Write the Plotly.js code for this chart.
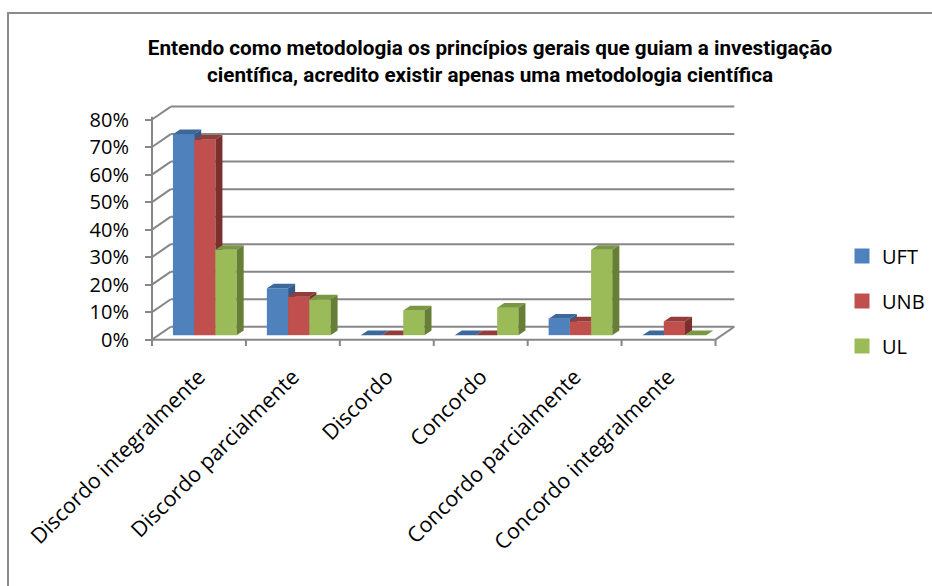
<!DOCTYPE html>
<html>
<head>
<meta charset="utf-8">
<script src="https://cdn.plot.ly/plotly-3.0.1.min.js"></script>
<style>
  body { margin: 0; background: #fff; }
  #wrap { position: relative; width: 932px; height: 586px; }
  #myDiv { width: 932px; height: 586px; }
  #frame { position: absolute; left: 7px; top: 12px; right: -4px; bottom: -4px;
           border-left: 2px solid #8a8a8a; border-top: 2px solid #8a8a8a; pointer-events: none; }
</style>
</head>
<body>
<div id="wrap">
  <div id="myDiv"></div>
  <div id="frame"></div>
</div>
<script>
var categories = ['Discordo integralmente', 'Discordo parcialmente', 'Discordo',
                  'Concordo', 'Concordo parcialmente', 'Concordo integralmente'];
var seriesNames = ['UFT', 'UNB', 'UL'];
var uft = [73, 17, 0, 0, 6, 0];
var unb = [71, 14, 0, 0, 5, 5];
var ul  = [31, 13, 9, 10, 31, 0];
var yTicks = [0, 10, 20, 30, 40, 50, 60, 70, 80];

var series = [uft, unb, ul];
var frontColors = ['#4F81BD', '#C0504D', '#9BBB59'];
var topColors   = ['#3D689C', '#933D3A', '#7A9743'];
var sideColors  = ['#335A88', '#7C302E', '#677E36'];

// fake 3d: everything in axis units
var xr = [-0.5, 5.75], yr = [-2.3, 86];
var barW = 0.226, shiftX = 0.062, shiftY = 1.64;
var depthX = 0.075, depthY = 1.7;
var wallX = 0.2, wallY = 4.7;

function face(xs, ys, color) {
    return {
        x: xs, y: ys, type: 'scatter', mode: 'lines', fill: 'toself',
        fillcolor: color, line: {width: 0}, showlegend: false, hoverinfo: 'skip'
    };
}

var data = [];
categories.forEach(function (c, i) {
    series.forEach(function (vals, k) {
        var x0 = i + shiftX - 1.5 * barW + k * barW, x1 = x0 + barW;
        var y0 = shiftY, y1 = vals[i] + shiftY;
        data.push(face([x0, x1, x1, x0], [y0, y0, y1, y1], frontColors[k]));
        data.push(face([x0, x1, x1 + depthX, x0 + depthX], [y1, y1, y1 + depthY, y1 + depthY], topColors[k]));
        data.push(face([x1, x1 + depthX, x1 + depthX, x1], [y0, y0 + depthY, y1 + depthY, y1], sideColors[k]));
    });
});

// legend entries
seriesNames.forEach(function (n, k) {
    data.push({
        x: [null], y: [null], type: 'scatter', mode: 'markers', name: n, legendgroup: n,
        marker: {symbol: 'square', size: 15, color: frontColors[k]}, hoverinfo: 'skip'
    });
});

function px(x) { return (x - xr[0]) / (xr[1] - xr[0]); }
function py(y) { return (y - yr[0]) / (yr[1] - yr[0]); }

var gridCol = '#878787';
function seg(x0, y0, x1, y1) {
    return {type: 'line', xref: 'paper', yref: 'paper', x0: x0, y0: y0, x1: x1, y1: y1,
            layer: 'below', line: {color: gridCol, width: 2}};
}

var shapes = [];
yTicks.forEach(function (v) {
    shapes.push(seg(px(-0.5), py(v), px(-0.5 + wallX), py(v + wallY)));
    shapes.push(seg(px(-0.5 + wallX), py(v + wallY), px(5.5 + wallX), py(v + wallY)));
});
shapes.push(seg(px(5.5), py(0), px(5.5 + wallX), py(wallY)));
shapes.push(seg(px(-0.5), py(0), px(5.5), py(0)));
shapes.push(seg(0, 0, 0, py(81)));
for (var b = -0.5; b <= 5.5; b++) {
    shapes.push(seg(px(b), py(0), px(b), 0));
}

var layout = {
    width: 932, height: 586,
    margin: {l: 152, r: 192.5, t: 103, b: 240.2, autoexpand: false},
    paper_bgcolor: '#fff', plot_bgcolor: 'rgba(0,0,0,0)',
    showlegend: true,
    hovermode: false,
    title: {
        text: 'Entendo como metodologia os princípios gerais que guiam a investigação<br>científica, acredito existir apenas uma metodologia científica',
        font: {family: 'Roboto, sans-serif', size: 20.7, color: '#000', weight: 'bold'},
        x: 490 / 932, xanchor: 'center', xref: 'container',
        y: 1 - 55 / 586, yanchor: 'middle', yref: 'container'
    },
    xaxis: {
        range: xr, showgrid: false, zeroline: false, showline: false,
        tickvals: [0, 1, 2, 3, 4, 5], ticktext: categories, ticks: '',
        tickangle: -45, ticklabelstandoff: 13,
        tickfont: {family: 'Open Sans, sans-serif', size: 21.5, color: '#000'}
    },
    yaxis: {
        range: yr, showgrid: false, zeroline: false, showline: false,
        tickvals: yTicks, ticktext: yTicks.map(function (v) { return v + '%'; }),
        ticks: 'outside', ticklen: 6, tickwidth: 2, tickcolor: gridCol,
        ticklabelstandoff: 12,
        tickfont: {family: 'Open Sans, sans-serif', size: 20, color: '#000'}
    },
    legend: {
        xref: 'container', yref: 'container',
        x: 842 / 932, y: 1 - 236.5 / 586, xanchor: 'left', yanchor: 'top',
        tracegroupgap: 16,
        font: {family: 'Open Sans, sans-serif', size: 20, color: '#000'}
    },
    shapes: shapes
};

Plotly.newPlot('myDiv', data, layout, {displayModeBar: false, staticPlot: true});
</script>
</body>
</html>
